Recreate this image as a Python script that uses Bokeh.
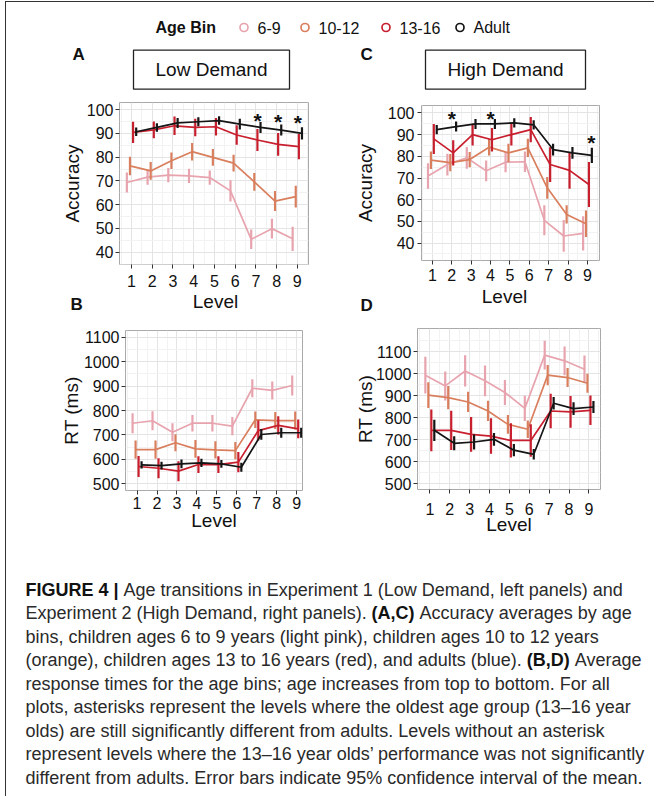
from bokeh.plotting import figure
from bokeh.models import ColumnDataSource, Range1d, FixedTicker, Spacer
from bokeh.layouts import row, column
from bokeh.core.properties import value
from bokeh.embed import file_html
from bokeh.resources import INLINE

FONT = "Liberation Sans"

# ---------------- data ----------------
levels = [1, 2, 3, 4, 5, 6, 7, 8, 9]
age_bins = ["6-9", "10-12", "13-16", "Adult"]
colors = ["#E8A4AE", "#D97F5E", "#C81F2E", "#151515"]
dodge = [-0.225, -0.075, 0.075, 0.225]

# A: accuracy, low demand
accA_69 = [69.3, 71.6, 72.4, 72.1, 71.4, 65.8, 45.4, 49.9, 45.6]
accA_69_ci = [4.2, 3.2, 3.0, 3.0, 3.0, 4.5, 4.1, 4.2, 5.1]
accA_1012 = [76.3, 74.2, 78.5, 82.3, 79.9, 77.5, 69.6, 61.5, 63.4]
accA_1012_ci = [3.9, 3.7, 3.5, 3.7, 3.5, 3.5, 3.7, 4.2, 4.6]
accA_1316 = [90.4, 91.5, 93.2, 92.5, 92.8, 89.3, 87.2, 85.4, 84.4]
accA_1316_ci = [4.5, 3.5, 3.9, 3.7, 3.7, 4.1, 4.6, 4.8, 5.3]
accA_adult = [90.7, 92.5, 94.4, 94.9, 95.4, 93.9, 92.5, 91.4, 90.0]
accA_adult_ci = [1.8, 1.8, 2.1, 1.9, 1.8, 2.3, 2.3, 2.3, 2.6]
starsA_x = [7.08, 8.07, 9.03]
starsA_y = [97.5, 97.2, 96.8]

# C: accuracy, high demand
accC_69 = [70.9, 76.2, 79.3, 73.3, 77.3, 77.5, 50.5, 43.3, 44.5]
accC_69_ci = [5.9, 5.0, 5.0, 4.8, 4.6, 4.7, 6.9, 7.3, 7.9]
accC_1012 = [78.2, 77.1, 78.5, 84.2, 81.6, 83.9, 65.5, 53.2, 48.9]
accC_1012_ci = [4.0, 4.0, 3.5, 3.8, 4.2, 4.2, 5.0, 4.2, 6.1]
accC_1316 = [88.0, 81.6, 90.0, 87.6, 90.0, 92.3, 76.2, 73.5, 67.0]
accC_1316_ci = [6.9, 5.8, 5.0, 5.4, 5.0, 5.8, 8.0, 8.4, 10.4]
accC_adult = [92.3, 93.7, 94.9, 94.9, 95.4, 94.5, 83.1, 81.6, 80.4]
accC_adult_ci = [2.1, 2.3, 2.3, 2.3, 2.1, 2.1, 2.7, 2.7, 3.5]
starsC_x = [2.0, 4.0, 9.2]
starsC_y = [99.5, 99.5, 88.8]

# B: RT, low demand
rtB_69 = [748, 758, 711, 748, 748, 736, 891, 882, 902]
rtB_69_ci = [41, 39, 37, 34, 34, 37, 37, 37, 41]
rtB_1012 = [640, 640, 668, 643, 639, 636, 762, 759, 759]
rtB_1012_ci = [37, 37, 35, 36, 35, 35, 34, 35, 37]
rtB_1316 = [571, 564, 552, 579, 579, 589, 718, 739, 725]
rtB_1316_ci = [43, 41, 41, 34, 34, 41, 41, 37, 38]
rtB_adult = [578, 575, 582, 586, 582, 568, 702, 709, 709]
rtB_adult_ci = [15, 16, 18, 17, 16, 18, 22, 20, 20]

# D: RT, high demand
rtD_69 = [994, 945, 1013, 968, 915, 843, 1085, 1059, 1021]
rtD_69_ci = [84, 66, 71, 70, 57, 57, 65, 65, 62]
rtD_1012 = [903, 892, 872, 831, 770, 748, 994, 983, 957]
rtD_1012_ci = [59, 53, 46, 46, 43, 40, 46, 43, 43]
rtD_1316 = [743, 743, 725, 717, 697, 697, 831, 827, 834]
rtD_1316_ci = [95, 89, 79, 81, 78, 74, 78, 72, 67]
rtD_adult = [743, 684, 690, 702, 653, 634, 866, 842, 849]
rtD_adult_ci = [48, 32, 34, 29, 28, 24, 28, 29, 27]

acc_ticks = [40, 50, 60, 70, 80, 90, 100]
acc_minor = [35, 45, 55, 65, 75, 85, 95, 105]
rt_ticks = [500, 600, 700, 800, 900, 1000, 1100]
rt_minor = [450, 550, 650, 750, 850, 950, 1050, 1150, 1250]

caption_lines = [
    [("FIGURE 4 |", True), (" Age transitions in Experiment 1 (Low Demand, left panels) and", False)],
    [("Experiment 2 (High Demand, right panels). ", False), ("(A,C)", True), (" Accuracy averages by age", False)],
    [("bins, children ages 6 to 9 years (light pink), children ages 10 to 12 years", False)],
    [("(orange), children ages 13 to 16 years (red), and adults (blue). ", False), ("(B,D)", True), (" Average", False)],
    [("response times for the age bins; age increases from top to bottom. For all", False)],
    [("plots, asterisks represent the levels where the oldest age group (13\u201316 year", False)],
    [("olds) are still significantly different from adults. Levels without an asterisk", False)],
    [("represent levels where the 13\u201316 year olds\u2019 performance was not significantly", False)],
    [("different from adults. Error bars indicate 95% confidence interval of the mean.", False)],
]

# ---------------- helpers ----------------
REG = {' ': 278, '!': 278, '%': 889, "'": 191, '(': 333, ')': 333, ',': 278, '-': 333, '.': 278,
       ':': 278, ';': 278, '|': 260, '\u2013': 556, '\u2019': 222,
       'A': 667, 'B': 667, 'C': 722, 'D': 722, 'E': 667, 'F': 611, 'G': 778, 'H': 722, 'I': 278,
       'J': 500, 'K': 667, 'L': 556, 'M': 833, 'N': 722, 'O': 778, 'P': 667, 'Q': 778, 'R': 722,
       'S': 667, 'T': 611, 'U': 722, 'V': 667, 'W': 944, 'X': 667, 'Y': 667, 'Z': 611,
       'a': 556, 'b': 556, 'c': 500, 'd': 556, 'e': 556, 'f': 278, 'g': 556, 'h': 556, 'i': 222,
       'j': 222, 'k': 500, 'l': 222, 'm': 833, 'n': 556, 'o': 556, 'p': 556, 'q': 556, 'r': 333,
       's': 500, 't': 278, 'u': 556, 'v': 500, 'w': 722, 'x': 500, 'y': 500, 'z': 500}
BOLD = {' ': 278, '(': 333, ')': 333, ',': 278, '.': 278, '|': 280,
        'A': 722, 'B': 722, 'C': 722, 'D': 722, 'E': 667, 'F': 611, 'G': 778, 'H': 722, 'I': 278,
        'R': 722, 'U': 722}


def text_width(s, size, bold):
    table = BOLD if bold else REG
    return sum(table.get(ch, 556) for ch in s) * size / 1000.0


def canvas(w, h):
    p = figure(width=w, height=h, x_range=Range1d(0, w), y_range=Range1d(h, 0),
               x_axis_type=None, y_axis_type=None, output_backend="svg", toolbar_location=None,
               min_border_left=0, min_border_right=0, min_border_top=0, min_border_bottom=0,
               outline_line_color=None, frame_align=False)
    p.background_fill_color = "white"
    p.border_fill_color = "white"
    return p


def style_axes(p, xstand, xlab_stand, ystand, ylab_stand):
    for ax in (p.xaxis[0], p.yaxis[0]):
        ax.axis_line_color = None
        ax.major_tick_line_color = "#333333"
        ax.major_tick_in = 0
        ax.major_tick_out = 4
        ax.minor_tick_line_color = None
        ax.major_label_text_font = FONT
        ax.major_label_text_font_size = "16px"
        ax.major_label_text_color = "#111111"
        ax.axis_label_text_font = FONT
        ax.axis_label_text_font_size = "19px"
        ax.axis_label_text_font_style = "normal"
        ax.axis_label_text_color = "#111111"
    p.xaxis.major_label_standoff = xstand
    p.xaxis.axis_label_standoff = xlab_stand
    p.yaxis.major_label_standoff = ystand
    p.yaxis.axis_label_standoff = ylab_stand
    for g in (p.xgrid[0], p.ygrid[0]):
        g.grid_line_color = "#E4E4E4"
        g.grid_line_width = 1
        g.minor_grid_line_color = "#F2F2F2"
        g.minor_grid_line_width = 1


def make_panel(w, h, borders, xr, yr, yticks, yminor, xlabel, ylabel, series, stars=None,
               xstand=5, xlab_stand=0, ystand=2, ylab_stand=4):
    bl, br, bt, bb = borders
    p = figure(width=w, height=h, x_range=Range1d(*xr), y_range=Range1d(*yr),
               output_backend="svg", toolbar_location=None, frame_align=False,
               min_border_left=bl, min_border_right=br, min_border_top=bt, min_border_bottom=bb)
    p.background_fill_color = "white"
    p.border_fill_color = "white"
    p.outline_line_color = "#A9A9A9"
    p.outline_line_width = 1
    p.xaxis.ticker = FixedTicker(ticks=levels, minor_ticks=[l - 0.5 for l in levels] + [9.5])
    p.yaxis.ticker = FixedTicker(ticks=yticks, minor_ticks=yminor)
    p.xaxis.axis_label = xlabel
    p.yaxis.axis_label = ylabel
    style_axes(p, xstand, xlab_stand, ystand, ylab_stand)
    for i, (mean, ci) in enumerate(series):
        src = ColumnDataSource(dict(
            x=[l + dodge[i] for l in levels],
            y=mean,
            lo=[m - c for m, c in zip(mean, ci)],
            hi=[m + c for m, c in zip(mean, ci)],
        ))
        p.line("x", "y", source=src, line_color=colors[i], line_width=1.7)
        p.segment(x0="x", y0="lo", x1="x", y1="hi", source=src, line_color=colors[i], line_width=2.2)
    if stars is not None:
        sx, sy = stars
        p.text(x=sx, y=sy, text=["*"] * len(sx), text_align="center", text_baseline="middle",
               text_font=value(FONT), text_font_style="bold", text_font_size="21px",
               text_color="#111111", y_offset=5)
    return p


def put_text(p, x, y, texts, size, bold=False, align="left", color="#111111"):
    p.text(x=x, y=y, text=texts, text_font=value(FONT), text_font_size=f"{size}px",
           text_font_style="bold" if bold else "normal", text_baseline="middle",
           text_align=align, text_color=color)


# ---------------- panels ----------------
pA = make_panel(345, 197, (113, 43, 7, 28), (0.42, 9.54), (34.8, 103.0), acc_ticks, acc_minor,
                None, "Accuracy",
                [(accA_69, accA_69_ci), (accA_1012, accA_1012_ci), (accA_1316, accA_1316_ci),
                 (accA_adult, accA_adult_ci)], stars=(starsA_x, starsA_y), xstand=6, ystand=2, ylab_stand=1)
pC = make_panel(303, 191, (64, 55, 10, 26), (0.44, 9.62), (32.0, 103.4), acc_ticks, acc_minor,
                None, "Accuracy",
                [(accC_69, accC_69_ci), (accC_1012, accC_1012_ci), (accC_1316, accC_1316_ci),
                 (accC_adult, accC_adult_ci)], stars=(starsC_x, starsC_y), xstand=4, ystand=3, ylab_stand=9)
pB = make_panel(345, 228, (119, 49, 16, 52), (0.42, 9.29), (473, 1127), rt_ticks, rt_minor,
                "Level", "RT (ms)",
                [(rtB_69, rtB_69_ci), (rtB_1012, rtB_1012_ci), (rtB_1316, rtB_1316_ci),
                 (rtB_adult, rtB_adult_ci)], xstand=2, xlab_stand=-2, ystand=2, ylab_stand=-1)
pD = make_panel(303, 228, (65, 54, 14, 53), (0.38, 9.58), (474, 1206), rt_ticks, rt_minor,
                "Level", "RT (ms)",
                [(rtD_69, rtD_69_ci), (rtD_1012, rtD_1012_ci), (rtD_1316, rtD_1316_ci),
                 (rtD_adult, rtD_adult_ci)], xstand=9, xlab_stand=-4, ystand=2, ylab_stand=-3)

# strips between the rows: "Level" titles of the upper panels and the letters B / D
stripL = canvas(345, 22)
put_text(stripL, [209], [9.4], ["Level"], 19, align="center")
put_text(stripL, [64], [12], ["B"], 17, bold=True)
stripR = canvas(303, 28)
put_text(stripR, [153], [10], ["Level"], 19, align="center")
put_text(stripR, [9], [18.5], ["D"], 17, bold=True)

# ---------------- header (legend, letters, title boxes) ----------------
hdr = canvas(648, 93)
put_text(hdr, [149], [25], ["Age Bin"], 16, bold=True)
leg_left = [251, 312, 393, 467]
hdr.scatter(x=[v - 13.5 for v in leg_left], y=[25] * 4, marker="circle", size=8,
            fill_color=None, line_color=colors, line_width=1.7)
put_text(hdr, leg_left, [25] * 4, age_bins, 16)
put_text(hdr, [66, 354], [51.7, 51.7], ["A", "C"], 17, bold=True)
hdr.quad(left=[127, 419], right=[283, 579], top=[47.7, 47.7], bottom=[86.7, 86.7],
         fill_color=None, line_color="#222222", line_width=1.3)
put_text(hdr, [205, 499], [66.7, 66.7], ["Low Demand", "High Demand"], 19, align="center")

# ---------------- caption ----------------
cap = canvas(648, 254)
CAP_SIZE = 18
reg_x, reg_y, reg_t, b_x, b_y, b_t = [], [], [], [], [], []
for i, segs in enumerate(caption_lines):
    x = 19.0
    y = 47.0 + 23.5 * i
    for s, bold in segs:
        lead = len(s) - len(s.lstrip(" "))
        xs = x + text_width(s[:lead], CAP_SIZE, bold)
        body = s.strip(" ")
        if bold:
            b_x.append(xs); b_y.append(y); b_t.append(body)
        else:
            reg_x.append(xs); reg_y.append(y); reg_t.append(body)
        x += text_width(s, CAP_SIZE, bold)
put_text(cap, reg_x, reg_y, reg_t, CAP_SIZE, color="#2a2a2a")
put_text(cap, b_x, b_y, b_t, CAP_SIZE, bold=True)

# ---------------- page layout ----------------
body = column(hdr, row(column(pA, stripL, pB), column(pC, stripR, pD)), cap)
frame_color = {"background-color": "#333333"}
page = column(
    Spacer(width=654, height=1),
    row(Spacer(width=5, height=1), Spacer(width=649, height=1, styles=frame_color)),
    row(Spacer(width=5, height=794), Spacer(width=1, height=794, styles=frame_color), body),
)

open("out.html", "w").write(file_html(page, INLINE))
